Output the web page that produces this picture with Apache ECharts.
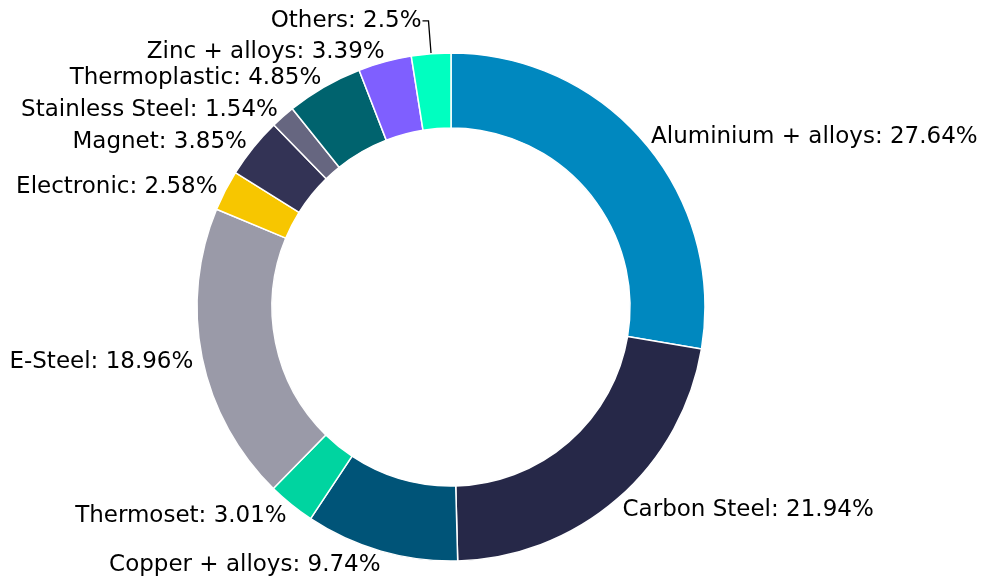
<!DOCTYPE html>
<html>
<head>
<meta charset="utf-8">
<script src="https://cdn.jsdelivr.net/npm/echarts@6/dist/echarts.min.js"></script>
<style>
html,body{margin:0;padding:0;background:#fff;}
#chart{width:983px;height:578px;}
</style>
</head>
<body>
<div id="chart"></div>
<script>
const categories = ["Aluminium + alloys","Carbon Steel","Copper + alloys","Thermoset","E-Steel","Electronic","Magnet","Stainless Steel","Thermoplastic","Zinc + alloys","Others"];
const values = [27.64,21.94,9.74,3.01,18.96,2.58,3.85,1.54,4.85,3.39,2.5];
const colors = ["#0088BF","#262848","#005478","#00D4A0","#9A9AA8","#F7C600","#333355","#666680","#00636E","#7F5FFF","#00FFC0"];

const data = categories.map((name, i) => {
  const item = { name: name, value: values[i], itemStyle: { color: colors[i] } };
  if (name === "Others") {
    item.labelLine = { show: true, length: 33, length2: 6, lineStyle: { color: "#000", width: 1.3 } };
    item.label = { distanceToLabelLine: 1 };
  }
  return item;
});

const chart = echarts.init(document.getElementById('chart'), null, { renderer: 'canvas' });
chart.setOption({
  animation: false,
  backgroundColor: '#ffffff',
  series: [{
    type: 'pie',
    center: [451, 307],
    radius: [179, 254],
    startAngle: 90,
    clockwise: true,
    avoidLabelOverlap: false,
    itemStyle: { borderColor: '#ffffff', borderWidth: 1.5 },
    label: {
      show: true,
      position: 'outside',
      formatter: p => p.name + ': ' + p.value + '%',
      fontFamily: 'DejaVu Sans',
      fontSize: 23,
      color: '#000000',
      distanceToLabelLine: -3
    },
    labelLine: { show: false, length: 12, length2: 0 },
    labelLayout: p => ({ hideOverlap: false, dy: categories[p.dataIndex] === 'Others' ? 0 : 2 }),
    data: data
  }]
});
</script>
</body>
</html>
